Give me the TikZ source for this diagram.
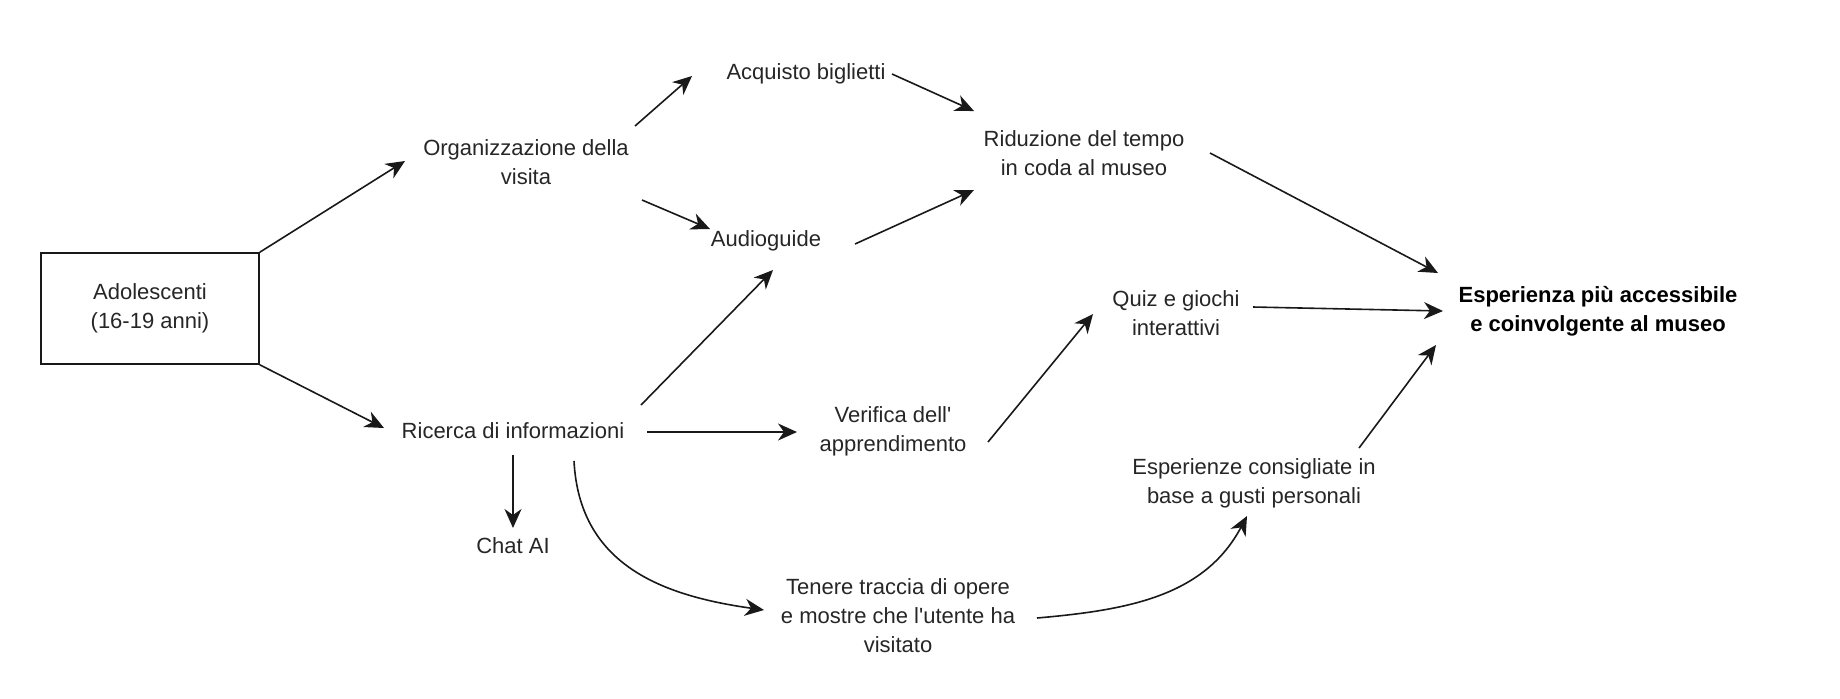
\documentclass[tikz,border=0pt]{standalone}
\usepackage{fontspec}
\setmainfont{Liberation Sans}
\usetikzlibrary{arrows.meta,calc}
\begin{document}
\begin{tikzpicture}[x=0.5pt,y=0.5pt,
  lbl/.style={align=center,font=\fontsize{11}{14.5}\selectfont,text=black!85,inner sep=0pt},
  conn/.style={line width=0.8pt,draw=black!90,-{Stealth[length=9.5pt,width=8.5pt,inset=3pt]}}]
\useasboundingbox (0,0) rectangle (1840,-698);
\node[lbl,draw=black!90,line width=0.8pt,minimum width=109pt,minimum height=55.5pt] (box) at (150,-308.5) {Adolescenti\\(16-19 anni)};
\node[lbl] (org) at (526,-162) {Organizzazione della\\visita};
\node[lbl] (acq) at (806,-74) {Acquisto biglietti};
\node[lbl] (aud) at (766,-241) {Audioguide};
\node[lbl] (rid) at (1084,-153) {Riduzione del tempo\\in coda al museo};
\node[lbl] (quiz) at (1176,-313) {Quiz e giochi\\interattivi};
\node[lbl,font=\fontsize{11}{14.5}\selectfont\bfseries,text=black] (esp) at (1598,-311) {Esperienza più accessibile\\e coinvolgente al museo};
\node[lbl] (ric) at (513,-431) {Ricerca di informazioni};
\node[lbl] (ver) at (893,-431) {Verifica dell\textquotesingle\\apprendimento};
\node[lbl] (esc) at (1254,-483) {Esperienze consigliate in\\base a gusti personali};
\node[lbl] (chat) at (513,-546) {Chat AI};
\node[lbl] (ten) at (898,-616) {Tenere traccia di opere\\e mostre che l\textquotesingle utente ha\\visitato};

\draw[conn] (box.north east) -- ($(org)+(-121,1)$);
\draw[conn] (box.south east) -- ($(ric)+(-129,3)$);
\draw[conn] ($(org)+(109,36)$) -- ($(acq)+(-114,-2)$);
\draw[conn] ($(org)+(116,-38)$) -- ($(aud)+(-56,12)$);
\draw[conn] ($(acq)+(86,0)$) -- ($(rid)+(-110,42)$);
\draw[conn] ($(aud)+(89,-3)$) -- ($(rid)+(-110,-37)$);
\draw[conn] ($(rid)+(126,0)$) -- ($(esp)+(-160,38)$);
\draw[conn] ($(ric)+(128,26)$) -- ($(aud)+(7,-29)$);
\draw[conn] ($(ric)+(134,-1)$) -- ($(ver)+(-96,-1)$);
\draw[conn] ($(ric)+(0,-24)$) -- ($(chat)+(0,18)$);
\draw[conn] ($(ric)+(61,-30)$) to[out=-87,in=172,looseness=1.1] ($(ten)+(-134,6)$);
\draw[conn] ($(ver)+(95,-11)$) -- ($(quiz)+(-83,-1)$);
\draw[conn] ($(quiz)+(77,6)$) -- ($(esp)+(-155,0)$);
\draw[conn] ($(esc)+(105,35)$) -- ($(esp)+(-162,-34)$);
\draw[conn] ($(ten)+(139,-2)$) to[out=5,in=-118] ($(esc)+(-7,-33)$);
\end{tikzpicture}
\end{document}
